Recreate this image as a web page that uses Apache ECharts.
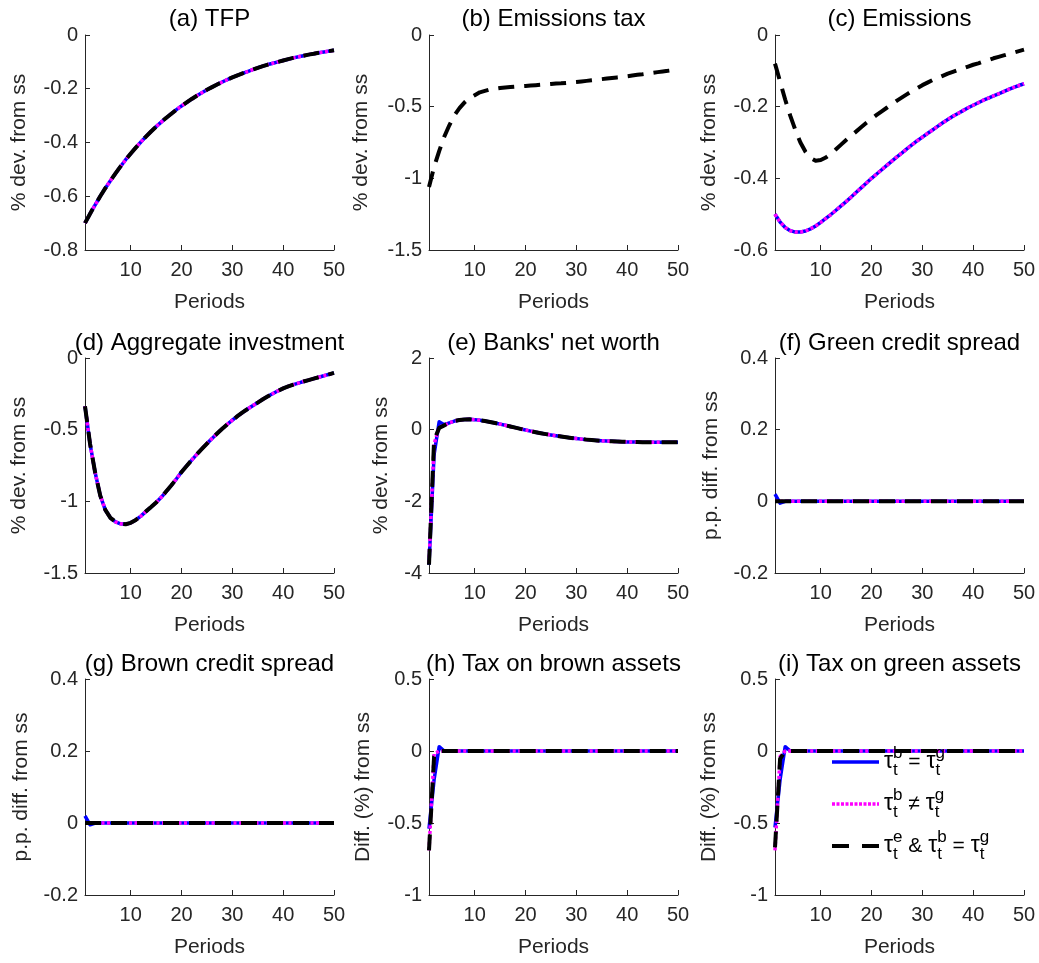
<!DOCTYPE html>
<html><head><meta charset="utf-8">
<script src="https://cdn.jsdelivr.net/npm/echarts@6/dist/echarts.min.js"></script>
<style>html,body{margin:0;padding:0;background:#fff}#c{width:1039px;height:963px}</style>
</head><body><div id="c"></div>
<script>
// ---------- data ----------
const periods = [1,2,3,4,5,6,7,8,9,10,11,12,13,14,15,16,17,18,19,20,21,22,23,24,25,26,27,28,29,30,31,32,33,34,35,36,37,38,39,40,41,42,43,44,45,46,47,48,49,50];
const xTicks = [10,20,30,40,50];

const tfp = [-0.700,-0.665,-0.632,-0.600,-0.570,-0.542,-0.515,-0.489,-0.464,-0.441,-0.419,-0.398,-0.378,-0.359,-0.341,-0.324,-0.308,-0.293,-0.278,-0.264,-0.251,-0.238,-0.226,-0.215,-0.204,-0.194,-0.184,-0.175,-0.166,-0.158,-0.150,-0.143,-0.136,-0.129,-0.122,-0.116,-0.110,-0.105,-0.100,-0.095,-0.090,-0.085,-0.081,-0.077,-0.073,-0.070,-0.066,-0.063,-0.060,-0.057];

const emisTaxBlack = [-1.06,-0.92,-0.81,-0.71,-0.63,-0.56,-0.51,-0.47,-0.44,-0.42,-0.40,-0.39,-0.38,-0.375,-0.37,-0.366,-0.363,-0.36,-0.358,-0.356,-0.353,-0.350,-0.347,-0.345,-0.342,-0.339,-0.337,-0.334,-0.331,-0.328,-0.324,-0.320,-0.316,-0.312,-0.308,-0.304,-0.300,-0.296,-0.292,-0.288,-0.283,-0.278,-0.274,-0.269,-0.264,-0.259,-0.254,-0.250,-0.245,-0.240];

const emisBase = [-0.500,-0.522,-0.537,-0.546,-0.550,-0.550,-0.547,-0.541,-0.533,-0.523,-0.512,-0.501,-0.489,-0.477,-0.465,-0.452,-0.439,-0.426,-0.413,-0.400,-0.388,-0.376,-0.364,-0.352,-0.340,-0.329,-0.317,-0.306,-0.295,-0.285,-0.275,-0.265,-0.255,-0.245,-0.236,-0.227,-0.219,-0.211,-0.203,-0.196,-0.189,-0.182,-0.176,-0.170,-0.164,-0.158,-0.152,-0.146,-0.141,-0.136];
const emisBlack = [-0.080,-0.130,-0.180,-0.225,-0.265,-0.300,-0.326,-0.343,-0.351,-0.349,-0.342,-0.332,-0.319,-0.306,-0.293,-0.281,-0.269,-0.257,-0.245,-0.234,-0.223,-0.213,-0.203,-0.193,-0.183,-0.174,-0.165,-0.156,-0.148,-0.140,-0.133,-0.126,-0.120,-0.114,-0.108,-0.103,-0.098,-0.093,-0.088,-0.083,-0.079,-0.074,-0.070,-0.065,-0.061,-0.057,-0.053,-0.049,-0.045,-0.041];

const invest = [-0.336,-0.600,-0.800,-0.960,-1.060,-1.115,-1.143,-1.157,-1.160,-1.150,-1.130,-1.103,-1.070,-1.040,-1.008,-0.972,-0.930,-0.888,-0.843,-0.795,-0.753,-0.712,-0.672,-0.634,-0.597,-0.561,-0.527,-0.494,-0.463,-0.434,-0.406,-0.380,-0.356,-0.333,-0.311,-0.288,-0.267,-0.248,-0.229,-0.212,-0.198,-0.186,-0.175,-0.164,-0.154,-0.144,-0.134,-0.124,-0.114,-0.104];

const netWorthBlack = [-3.77,-0.30,0.05,0.12,0.19,0.24,0.27,0.285,0.29,0.28,0.262,0.24,0.214,0.185,0.155,0.123,0.09,0.057,0.023,-0.01,-0.04,-0.07,-0.098,-0.124,-0.148,-0.171,-0.193,-0.213,-0.232,-0.249,-0.264,-0.278,-0.29,-0.301,-0.311,-0.319,-0.326,-0.332,-0.337,-0.341,-0.344,-0.347,-0.349,-0.35,-0.351,-0.351,-0.351,-0.35,-0.349,-0.348];
const netWorthMagenta = [-3.72,-0.40,0.07,0.12,0.19,0.24,0.27,0.285,0.29,0.28,0.262,0.24,0.214,0.185,0.155,0.123,0.09,0.057,0.023,-0.01,-0.04,-0.07,-0.098,-0.124,-0.148,-0.171,-0.193,-0.213,-0.232,-0.249,-0.264,-0.278,-0.29,-0.301,-0.311,-0.319,-0.326,-0.332,-0.337,-0.341,-0.344,-0.347,-0.349,-0.35,-0.351,-0.351,-0.351,-0.35,-0.349,-0.348];
const netWorthBlue = [-3.77,-0.70,0.22,0.14,0.19,0.24,0.27,0.285,0.29,0.28,0.262,0.24,0.214,0.185,0.155,0.123,0.09,0.057,0.023,-0.01,-0.04,-0.07,-0.098,-0.124,-0.148,-0.171,-0.193,-0.213,-0.232,-0.249,-0.264,-0.278,-0.29,-0.301,-0.311,-0.319,-0.326,-0.332,-0.337,-0.341,-0.344,-0.347,-0.349,-0.35,-0.351,-0.351,-0.351,-0.35,-0.349,-0.348];

const spreadFlat = [0,0,0,0,0,0,0,0,0,0, 0,0,0,0,0,0,0,0,0,0, 0,0,0,0,0,0,0,0,0,0, 0,0,0,0,0,0,0,0,0,0, 0,0,0,0,0,0,0,0,0,0];
const spreadBlue = [0.02,-0.005, 0,0,0,0,0,0,0,0,0,0, 0,0,0,0,0,0,0,0,0,0, 0,0,0,0,0,0,0,0,0,0, 0,0,0,0,0,0,0,0,0,0, 0,0,0,0,0,0,0,0];

const taxBrownBlack = [-0.69,-0.04, 0,0,0,0,0,0,0,0,0,0, 0,0,0,0,0,0,0,0,0,0, 0,0,0,0,0,0,0,0,0,0, 0,0,0,0,0,0,0,0,0,0, 0,0,0,0,0,0,0,0];
const taxBrownMagenta = [-0.69,-0.02, 0,0,0,0,0,0,0,0,0,0, 0,0,0,0,0,0,0,0,0,0, 0,0,0,0,0,0,0,0,0,0, 0,0,0,0,0,0,0,0,0,0, 0,0,0,0,0,0,0,0];
const taxBrownBlue = [-0.54,-0.20,0.03, 0,0,0,0,0,0,0,0,0,0, 0,0,0,0,0,0,0,0,0,0, 0,0,0,0,0,0,0,0,0,0, 0,0,0,0,0,0,0,0,0,0, 0,0,0,0,0,0,0];

const taxGreenBlack = [-0.67,-0.055, 0,0,0,0,0,0,0,0,0,0, 0,0,0,0,0,0,0,0,0,0, 0,0,0,0,0,0,0,0,0,0, 0,0,0,0,0,0,0,0,0,0, 0,0,0,0,0,0,0,0];
const taxGreenMagenta = [-0.69,-0.04, 0,0,0,0,0,0,0,0,0,0, 0,0,0,0,0,0,0,0,0,0, 0,0,0,0,0,0,0,0,0,0, 0,0,0,0,0,0,0,0,0,0, 0,0,0,0,0,0,0,0];
const taxGreenBlue = [-0.53,-0.20,0.03, 0,0,0,0,0,0,0,0,0,0, 0,0,0,0,0,0,0,0,0,0, 0,0,0,0,0,0,0,0,0,0, 0,0,0,0,0,0,0,0,0,0, 0,0,0,0,0,0,0];

const seriesNames = ['τb = τg', 'τb ≠ τg', 'τe & τb = τg'];
const titles = ['(a) TFP','(b) Emissions tax','(c) Emissions','(d) Aggregate investment',"(e) Banks' net worth",'(f) Green credit spread','(g) Brown credit spread','(h) Tax on brown assets','(i) Tax on green assets'];
const yNames = ['% dev. from ss','% dev. from ss','% dev. from ss','% dev. from ss','% dev. from ss','p.p. diff. from ss','p.p. diff. from ss','Diff. (%) from ss','Diff. (%) from ss'];
const yMin = [-0.8,-1.5,-0.6,-1.5,-4,-0.2,-0.2,-1,-1];
const yMax = [0,0,0,0,2,0.4,0.4,0.5,0.5];
const yStep = [0.2,0.5,0.2,0.5,2,0.2,0.2,0.5,0.5];
const panelData = [
  [tfp, tfp, tfp],
  [null, null, emisTaxBlack],
  [emisBase, emisBase, emisBlack],
  [invest, invest, invest],
  [netWorthBlue, netWorthMagenta, netWorthBlack],
  [spreadBlue, spreadFlat, spreadFlat],
  [spreadBlue, spreadFlat, spreadFlat],
  [taxBrownBlue, taxBrownMagenta, taxBrownBlack],
  [taxGreenBlue, taxGreenMagenta, taxGreenBlack]
];

// ---------- layout / style ----------
const FONT = "'Liberation Sans', Arial, Helvetica, sans-serif";
const AX = '#262626';
const colLeft = [85, 429, 775];
const rowTop = [35, 358, 679];
const gridW = 249, gridH = [215, 215, 216];
const titleTop = [7, 331, 652];
const yNameGap = [55, 57, 55, 55, 37, 53, 53, 55, 55];
const lineStyles = [
  {color:'#0000ff', width:3.5, type:'solid'},
  {color:'#ff00ff', width:3.5, type:[3,2.5]},
  {color:'#000000', width:4, type:[16,10]}
];
const legendLineStyles = [
  {color:'#0000ff', width:3.5, type:'solid'},
  {color:'#ff00ff', width:3.5, type:[3,1.5]},
  {color:'#000000', width:4, type:[17,13]}
];

const grids = [], xAxes = [], yAxes = [], titleOpts = [], series = [];
for (let i = 0; i < 9; i++) {
  const r = Math.floor(i / 3), c = i % 3;
  grids.push({left: colLeft[c], top: rowTop[r], width: gridW, height: gridH[r], containLabel: false});
  titleOpts.push({
    text: titles[i], left: colLeft[c] + gridW / 2, top: titleTop[r], textAlign: 'center', padding: 0,
    textStyle: {fontFamily: FONT, fontSize: 24, fontWeight: 'normal', color: '#000'}
  });
  xAxes.push({
    gridIndex: i, type: 'value', min: 1, max: 50,
    name: 'Periods', nameLocation: 'middle', nameGap: 42,
    nameTextStyle: {fontFamily: FONT, fontSize: 21, color: AX},
    axisLine: {show: true, onZero: false, lineStyle: {color: AX, width: 1}},
    axisTick: {show: true, inside: true, length: 5, customValues: xTicks, lineStyle: {color: AX}},
    axisLabel: {customValues: xTicks, fontFamily: FONT, fontSize: 20, color: AX, margin: 10},
    splitLine: {show: false}
  });
  yAxes.push({
    gridIndex: i, type: 'value', min: yMin[i], max: yMax[i], interval: yStep[i],
    name: yNames[i], nameLocation: 'middle', nameGap: yNameGap[i], nameRotate: 90,
    nameTextStyle: {fontFamily: FONT, fontSize: 21, color: AX},
    axisLine: {show: true, onZero: false, lineStyle: {color: AX, width: 1}},
    axisTick: {show: true, inside: true, length: 5, lineStyle: {color: AX}},
    axisLabel: {fontFamily: FONT, fontSize: 20, color: AX, margin: 7,
      formatter: v => String(Math.round(v * 100) / 100)},
    splitLine: {show: false}
  });
  for (let s = 0; s < 3; s++) {
    const arr = panelData[i][s];
    if (!arr) continue;
    series.push({
      type: 'line', name: seriesNames[s], xAxisIndex: i, yAxisIndex: i,
      data: periods.map((p, k) => [p, arr[k]]),
      symbol: 'none', showSymbol: false, smooth: false, silent: true,
      lineStyle: Object.assign({cap: 'butt', join: 'round'}, lineStyles[s]),
      itemStyle: {color: lineStyles[s].color},
      z: 2 + s
    });
  }
}

const legendRich = {
  t: {fontFamily: FONT, fontSize: 23, color: '#000', lineHeight: 34, verticalAlign: 'middle'},
  sup: {fontFamily: FONT, fontSize: 17, color: '#000', lineHeight: 17, verticalAlign: 'top'},
  sub: {fontFamily: FONT, fontSize: 17, color: '#000', lineHeight: 17, verticalAlign: 'bottom', width: 0},
  o: {fontFamily: FONT, fontSize: 21, color: '#000', lineHeight: 34, verticalAlign: 'middle'}
};
const legendText = {
  'τb = τg': '{t|τ}{sub|t}{sup|b}{o| = }{t|τ}{sub|t}{sup|g}',
  'τb ≠ τg': '{t|τ}{sub|t}{sup|b}{o| ≠ }{t|τ}{sub|t}{sup|g}',
  'τe & τb = τg': '{t|τ}{sub|t}{sup|e}{o| & }{t|τ}{sub|t}{sup|b}{o| = }{t|τ}{sub|t}{sup|g}'
};

const chart = echarts.init(document.getElementById('c'), null, {renderer: 'canvas'});
chart.setOption({
  animation: false,
  backgroundColor: '#fff',
  title: titleOpts,
  grid: grids,
  xAxis: xAxes,
  yAxis: yAxes,
  legend: {
    orient: 'vertical', left: 830, top: 745, itemWidth: 47, itemHeight: 14, itemGap: 8,
    padding: 0, selectedMode: false,
    itemStyle: {opacity: 0},
    data: seriesNames.map((n, s) => ({name: n, lineStyle: Object.assign({cap: 'butt'}, legendLineStyles[s])})),
    formatter: name => legendText[name],
    textStyle: {fontFamily: FONT, fontSize: 21, color: '#000', rich: legendRich}
  },
  series: series
});
</script></body></html>
